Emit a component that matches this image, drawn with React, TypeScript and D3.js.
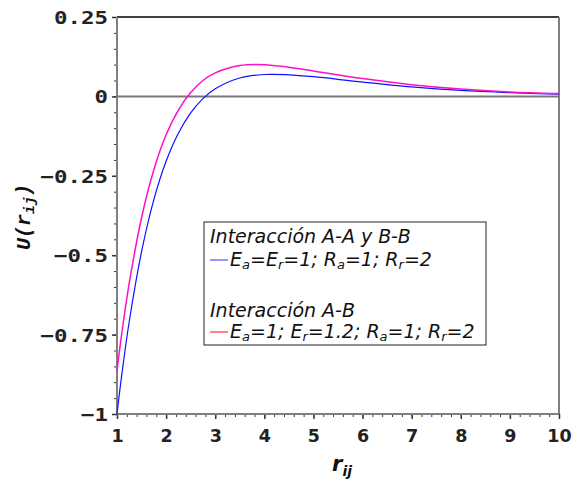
import React, { useEffect, useRef } from 'react';
import * as d3 from 'd3';

// r values and potential curves
const rVals = [1, 1.1, 1.25, 1.5, 1.75, 2, 2.25, 2.5, 2.75, 3, 3.5, 4, 4.5, 5, 6, 7, 8, 9, 10];
const uAA = [-1.0, -0.873, -0.708, -0.489, -0.325, -0.204, -0.116, -0.052, -0.007, 0.024, 0.058, 0.069, 0.068, 0.062, 0.045, 0.03, 0.019, 0.012, 0.007];
const uAB = [-0.863, -0.743, -0.587, -0.382, -0.231, -0.121, -0.043, 0.012, 0.05, 0.074, 0.097, 0.1, 0.092, 0.08, 0.056, 0.037, 0.023, 0.014, 0.009];

const xTicks = [1, 2, 3, 4, 5, 6, 7, 8, 9, 10];
const yTicks = [-1, -0.75, -0.5, -0.25, 0, 0.25];
const yTickLabels = ['\u22121', '\u22120.75', '\u22120.5', '\u22120.25', '0', '0.25'];

function App() {
  const canvas = useRef<SVGSVGElement>(null);

  const width = 579;
  const height = 481;
  const margin = { top: 17, left: 117, bottom: 67, right: 20 };
  const iwidth = width - margin.left - margin.right;
  const iheight = height - margin.top - margin.bottom;

  useEffect(() => {
    const svg = d3.select(canvas.current);
    svg.selectAll('*').remove();
    const g = svg.append('g').attr('transform', `translate(${margin.left},${margin.top})`);

    const x = d3.scaleLinear().domain([1, 10]).range([0, iwidth]);
    const y = d3.scaleLinear().domain([-1, 0.25]).range([iheight, 0]);

    // minor ticks
    const xMinor = d3.range(1, 10.001, 0.2).map(v => +v.toFixed(2));
    const yMinor = d3.range(-1, 0.2501, 0.05).map(v => +v.toFixed(2));

    g.append('g')
      .attr('transform', `translate(0,${iheight})`)
      .call(d3.axisBottom(x).tickValues(xMinor).tickSize(3).tickFormat(() => ''))
      .call(a => a.select('.domain').remove())
      .selectAll('line').attr('stroke', '#333');
    g.append('g')
      .call(d3.axisLeft(y).tickValues(yMinor).tickSize(3).tickFormat(() => ''))
      .call(a => a.select('.domain').remove())
      .selectAll('line').attr('stroke', '#333');

    const xa = g.append('g')
      .attr('transform', `translate(0,${iheight})`)
      .call(d3.axisBottom(x).tickValues(xTicks).tickSize(5).tickPadding(11).tickFormat(d3.format('d')));
    xa.select('.domain').remove();
    xa.selectAll('line').attr('stroke', '#333').attr('stroke-width', 1.5);
    xa.selectAll('text')
      .attr('font-family', 'DejaVu Sans')
      .attr('font-weight', 'bold')
      .attr('font-size', 17.5)
      .attr('fill', '#222');

    const ya = g.append('g')
      .call(d3.axisLeft(y).tickValues(yTicks).tickSize(5).tickPadding(4)
        .tickFormat((d, i) => yTickLabels[i]));
    ya.select('.domain').remove();
    ya.selectAll('line').attr('stroke', '#333').attr('stroke-width', 1.5);
    ya.selectAll('text')
      .attr('font-family', 'DejaVu Sans Mono')
      .attr('font-weight', 'bold')
      .attr('font-size', 18)
      .attr('fill', '#222')
      .attr('dy', '0.36em')
      .attr('lengthAdjust', 'spacingAndGlyphs')
      .attr('textLength', (d, i) => yTickLabels[i].length * 13.5);

    // frame
    g.append('line').attr('x1', 0).attr('x2', iwidth).attr('y1', 0).attr('y2', 0)
      .attr('stroke', '#000').attr('stroke-width', 1.5);
    g.append('line').attr('x1', 0).attr('x2', 0).attr('y1', 0).attr('y2', iheight)
      .attr('stroke', '#808080').attr('stroke-width', 2);
    g.append('line').attr('x1', iwidth).attr('x2', iwidth).attr('y1', 0).attr('y2', iheight)
      .attr('stroke', '#808080').attr('stroke-width', 2);
    g.append('line').attr('x1', 0).attr('x2', iwidth).attr('y1', iheight).attr('y2', iheight)
      .attr('stroke', '#808080').attr('stroke-width', 2);
    g.append('line').attr('x1', 0).attr('x2', iwidth).attr('y1', y(0)).attr('y2', y(0))
      .attr('stroke', '#777').attr('stroke-width', 2);

    const line = d3.line<number>()
      .x((d, i) => x(rVals[i]))
      .y(d => y(d))
      .curve(d3.curveCatmullRom);

    g.append('path').attr('d', line(uAA)).attr('fill', 'none')
      .attr('stroke', '#1010ff').attr('stroke-width', 1.2);
    g.append('path').attr('d', line(uAB)).attr('fill', 'none')
      .attr('stroke', '#ff10c8').attr('stroke-width', 1.5);

    // axis titles
    const xl = svg.append('text')
      .attr('x', 342).attr('y', 471)
      .attr('text-anchor', 'middle')
      .attr('font-family', 'DejaVu Sans')
      .attr('font-weight', 'bold')
      .attr('font-style', 'italic')
      .attr('font-size', 21)
      .attr('fill', '#111');
    xl.append('tspan').text('r');
    xl.append('tspan').attr('font-size', 14).attr('dy', 5).text('ij');

    const yl = svg.append('text')
      .attr('transform', 'translate(30,217) rotate(-90)')
      .attr('text-anchor', 'middle')
      .attr('font-family', 'Liberation Mono')
      .attr('font-weight', 'bold')
      .attr('font-style', 'italic')
      .attr('font-size', 20)
      .attr('fill', '#111');
    yl.append('tspan').text('U(r');
    yl.append('tspan').attr('font-size', 15).attr('dy', 4).text('ij');
    yl.append('tspan').attr('dy', -4).text(')');

    // legend
    const lg = svg.append('g');
    lg.append('rect').attr('x', 204).attr('y', 222).attr('width', 282).attr('height', 123)
      .attr('fill', '#fff').attr('stroke', '#222').attr('stroke-width', 1);
    const font = (t: any) => t.attr('font-family', 'DejaVu Sans').attr('font-style', 'italic')
      .attr('font-size', 19).attr('fill', '#111');
    font(lg.append('text').attr('x', 210).attr('y', 243).text('Interacción A-A y B-B'));
    font(lg.append('text').attr('x', 210).attr('y', 317).text('Interacción A-B'));
    lg.append('line').attr('x1', 210).attr('x2', 228).attr('y1', 260).attr('y2', 260)
      .attr('stroke', '#5050ff').attr('stroke-width', 1.2);
    lg.append('line').attr('x1', 210).attr('x2', 228).attr('y1', 332).attr('y2', 332)
      .attr('stroke', '#ff3030').attr('stroke-width', 1.2);

    const sub = (t: any, parts: [string, boolean][]) => {
      parts.forEach(([s, isSub], i) => {
        const ts = t.append('tspan').text(s);
        if (isSub) ts.attr('font-size', 13).attr('dy', 3);
        else if (i > 0 && parts[i - 1][1]) ts.attr('dy', -3);
      });
    };
    const t1 = font(lg.append('text').attr('x', 230).attr('y', 266));
    sub(t1, [['E', false], ['a', true], ['=E', false], ['r', true], ['=1; R', false], ['a', true], ['=1; R', false], ['r', true], ['=2', false]]);
    const t2 = font(lg.append('text').attr('x', 230).attr('y', 338));
    sub(t2, [['E', false], ['a', true], ['=1; E', false], ['r', true], ['=1.2; R', false], ['a', true], ['=1; R', false], ['r', true], ['=2', false]]);
  });

  return (
    <div style={{ position: 'absolute', left: 0, top: 0 }}>
      <svg ref={canvas} width={width} height={height} style={{ display: 'block', background: '#fff' }} />
    </div>
  );
}

export default App;
